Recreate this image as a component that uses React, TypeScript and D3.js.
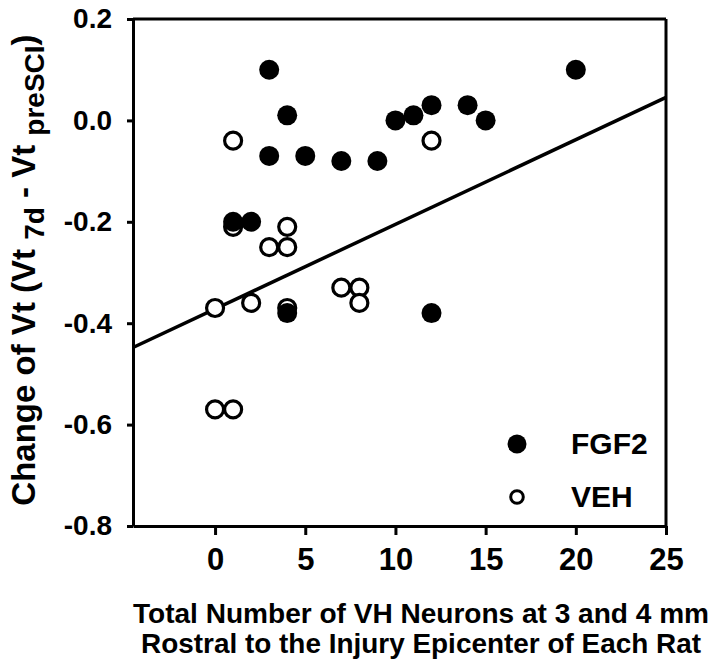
import React, { useEffect, useRef } from 'react';
import * as d3 from 'd3';

// x tick values and y tick values
const xTicks = [0, 5, 10, 15, 20, 25];
const yTicks = [0.2, 0.0, -0.2, -0.4, -0.6, -0.8];

// FGF2 group (filled circles)
const fgf2X = [3, 4, 3, 5, 7, 9, 10, 11, 12, 14, 15, 20, 1, 2, 12, 4];
const fgf2Y = [0.10, 0.01, -0.07, -0.07, -0.08, -0.08, 0.0, 0.01, 0.03, 0.03, 0.0, 0.10, -0.20, -0.20, -0.38, -0.38];

// VEH group (open circles)
const vehX = [1, 12, 1, 4, 3, 4, 0, 2, 4, 7, 8, 8, 0, 1];
const vehY = [-0.04, -0.04, -0.21, -0.21, -0.25, -0.25, -0.37, -0.36, -0.37, -0.33, -0.33, -0.36, -0.57, -0.57];

// linear regression line
const fitIntercept = -0.372;
const fitSlope = 0.0167;

const xDomain = [-4.55, 25];
const yDomain = [-0.8, 0.2];

const FONT = '"Liberation Sans", Arial, Helvetica, sans-serif';

const App = () => {
  const ref = useRef(null);

  useEffect(() => {
    const width = 720;
    const height = 670;
    const margin = { top: 19, right: 54, bottom: 144, left: 133 };

    d3.select(ref.current).select('svg').remove();

    const svg = d3.select(ref.current)
      .append('svg')
      .attr('width', width)
      .attr('height', height)
      .style('position', 'absolute')
      .style('left', 0)
      .style('top', 0)
      .style('background', '#fff');

    const x = d3.scaleLinear().domain(xDomain).range([margin.left, width - margin.right]);
    const y = d3.scaleLinear().domain(yDomain).range([height - margin.bottom, margin.top]);

    // frame top / right
    svg.append('line')
      .attr('x1', x(xDomain[0])).attr('x2', x(xDomain[1]))
      .attr('y1', y(yDomain[1])).attr('y2', y(yDomain[1]))
      .attr('stroke', '#000').attr('stroke-width', 3);
    svg.append('line')
      .attr('x1', x(xDomain[1])).attr('x2', x(xDomain[1]))
      .attr('y1', y(yDomain[1])).attr('y2', y(yDomain[0]))
      .attr('stroke', '#000').attr('stroke-width', 3);

    const xAxis = svg.append('g')
      .attr('transform', `translate(0,${y(yDomain[0])})`)
      .call(d3.axisBottom(x).tickValues(xTicks).tickSize(9).tickSizeOuter(0).tickPadding(13).tickFormat(d => String(d)));

    const yAxis = svg.append('g')
      .attr('transform', `translate(${x(xDomain[0])},0)`)
      .call(d3.axisLeft(y).tickValues(yTicks).tickSize(6).tickSizeOuter(0).tickPadding(15).tickFormat(d => d.toFixed(1)));

    [xAxis, yAxis].forEach(g => {
      g.select('.domain').attr('stroke', '#000').attr('stroke-width', 3);
      g.selectAll('.tick line').attr('stroke', '#000').attr('stroke-width', 3);
      g.selectAll('.tick text')
        .attr('fill', '#000')
        .style('font-family', FONT)
        .style('font-weight', 'bold');
    });
    xAxis.selectAll('.tick text').style('font-size', '31px');
    yAxis.selectAll('.tick text').style('font-size', '28px');

    // regression line
    svg.append('line')
      .attr('x1', x(xDomain[0])).attr('y1', y(fitIntercept + fitSlope * xDomain[0]))
      .attr('x2', x(xDomain[1])).attr('y2', y(fitIntercept + fitSlope * xDomain[1]))
      .attr('stroke', '#000').attr('stroke-width', 3.5);

    // open circles (VEH)
    svg.append('g').selectAll('circle')
      .data(vehX.map((d, i) => [d, vehY[i]]))
      .enter().append('circle')
      .attr('cx', d => x(d[0]))
      .attr('cy', d => y(d[1]))
      .attr('r', 8.5)
      .attr('fill', '#fff')
      .attr('stroke', '#000')
      .attr('stroke-width', 3.2);

    // filled circles (FGF2)
    svg.append('g').selectAll('circle')
      .data(fgf2X.map((d, i) => [d, fgf2Y[i]]))
      .enter().append('circle')
      .attr('cx', d => x(d[0]))
      .attr('cy', d => y(d[1]))
      .attr('r', 10)
      .attr('fill', '#000');

    // legend
    const legend = svg.append('g').attr('transform', 'translate(517,444)');
    legend.append('circle').attr('cx', 0).attr('cy', 0).attr('r', 9.5).attr('fill', '#000');
    legend.append('circle').attr('cx', 0).attr('cy', 53).attr('r', 6.3)
      .attr('fill', '#fff').attr('stroke', '#000').attr('stroke-width', 3);
    legend.selectAll('text')
      .data(['FGF2', 'VEH'])
      .enter().append('text')
      .attr('x', 54)
      .attr('y', (d, i) => 10 + i * 53)
      .text(d => d)
      .style('font-family', FONT)
      .style('font-weight', 'bold')
      .style('font-size', '30px');

    // x axis title
    const xTitleLines = ['Total Number of VH Neurons at 3 and 4 mm', 'Rostral to the Injury Epicenter of Each Rat'];
    const xTitleWidths = [576, 560];
    svg.append('g').selectAll('text')
      .data(xTitleLines)
      .enter().append('text')
      .attr('x', 421)
      .attr('y', (d, i) => 623 + i * 30)
      .attr('text-anchor', 'middle')
      .attr('textLength', (d, i) => xTitleWidths[i])
      .attr('lengthAdjust', 'spacingAndGlyphs')
      .style('font-family', FONT)
      .style('font-weight', 'bold')
      .style('font-size', '28px')
      .text(d => d);

    // y axis title
    const yTitle = svg.append('text')
      .attr('transform', 'translate(35,270) rotate(-90)')
      .attr('text-anchor', 'middle')
      .style('font-family', FONT)
      .style('font-weight', 'bold')
      .style('font-size', '33px');
    yTitle.append('tspan').text('Change of Vt (Vt ');
    yTitle.append('tspan').attr('dy', 9).style('font-size', '28px').text('7d');
    yTitle.append('tspan').attr('dy', -9).text(' - Vt ');
    yTitle.append('tspan').attr('dy', 9).style('font-size', '28px').text('preSCI');
    yTitle.append('tspan').attr('dy', -9).text(')');
  }, []);

  return <div ref={ref}></div>;
};

export default App;
